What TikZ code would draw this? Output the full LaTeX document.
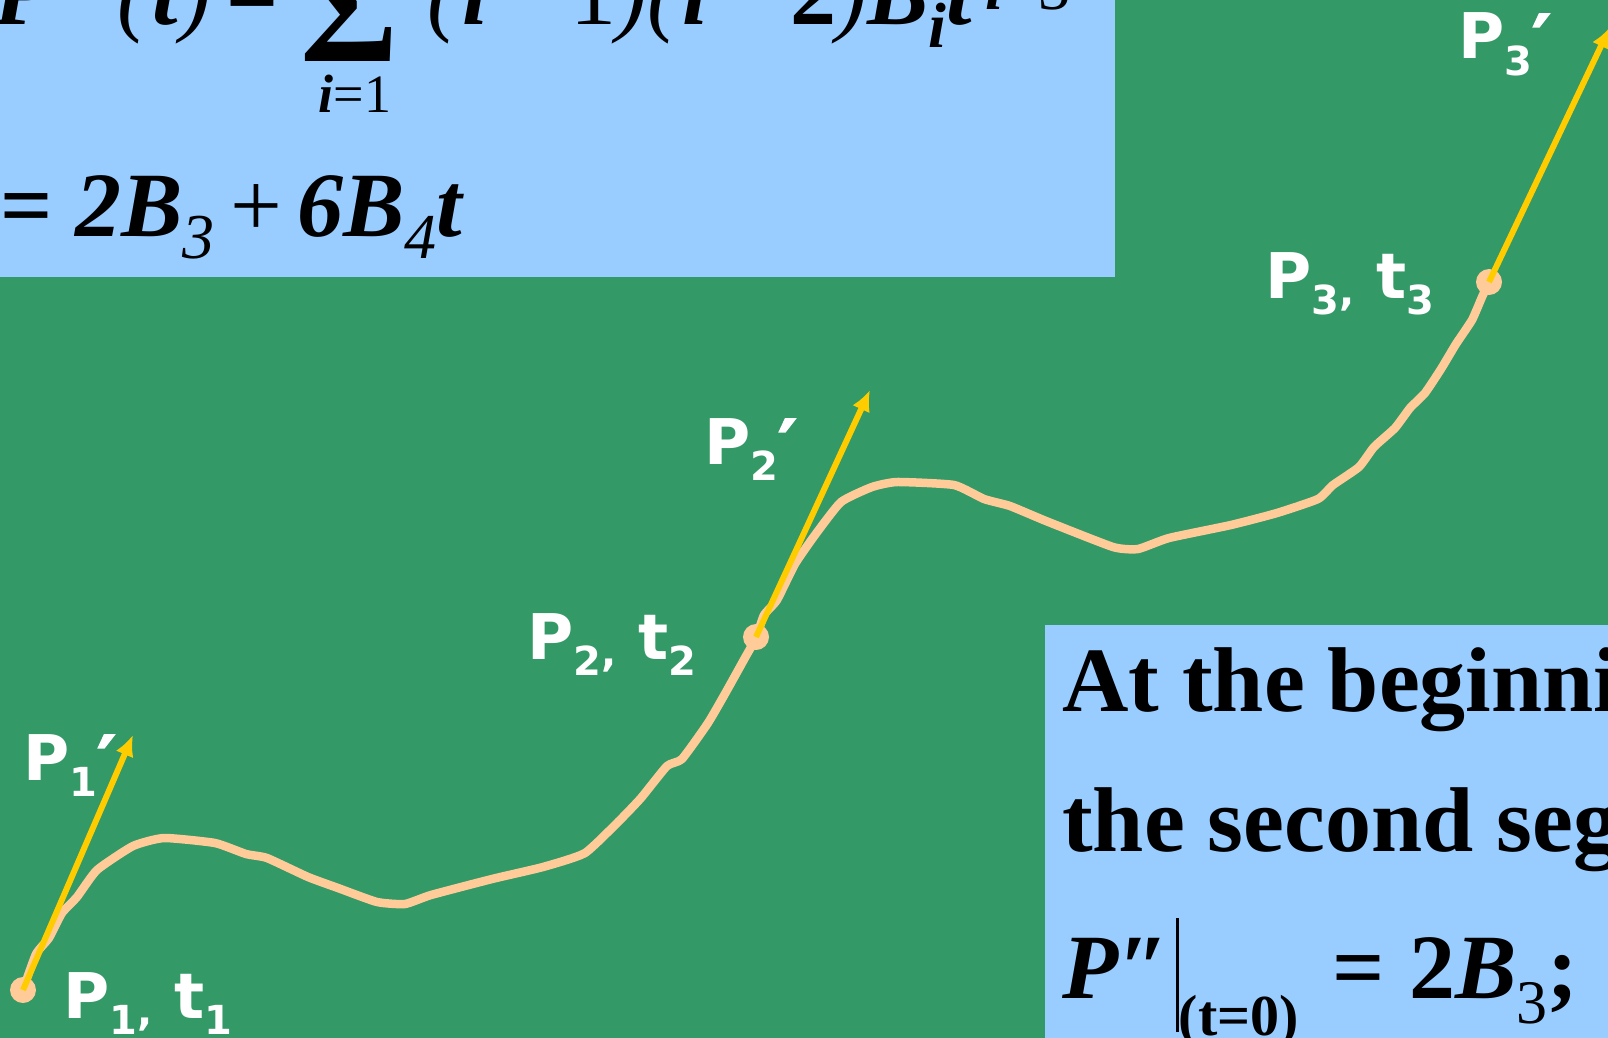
\documentclass[tikz,border=0pt]{standalone}
\usepackage{fontspec}
\setmainfont{Liberation Serif}
\newfontfamily\labelfont{DejaVu Sans}
\newfontfamily\primefont{DejaVu Sans}[FakeBold=2.5]
\usetikzlibrary{arrows.meta}
\definecolor{SlideGreen}{HTML}{339966}
\definecolor{BoxBlue}{HTML}{99CCFF}
\definecolor{CurvePeach}{HTML}{FFCC99}
\definecolor{TanGold}{HTML}{FFCC00}
\newcommand{\bfit}[1]{\textbf{\textit{#1}}}
% subscripts of the formulas and of the point labels
\newcommand{\bsub}[1]{\raisebox{-0.24em}{\fontsize{64}{64}\selectfont\textit{#1}}}
\newcommand{\lsub}[1]{\raisebox{-0.26em}{\fontsize{40}{40}\selectfont #1}}
\newcommand{\lcomma}{\raisebox{0.22em}{,}}
\newcommand{\lprime}{\raisebox{-6pt}{\primefont\bfseries\fontsize{70}{70}\selectfont′}}

\begin{document}
\begin{tikzpicture}[
    x=1pt, y=-1pt,
    % text in the blue boxes
    boxtext/.style={font=\fontsize{92}{110}\selectfont, inner sep=0, anchor=base west, text=black},
    lbl/.style={font=\labelfont\bfseries\fontsize{63}{70}\selectfont, inner sep=0, anchor=base west, text=white},
    curve/.style={draw=CurvePeach, line width=8.5pt, line join=round, line cap=round},
    tangent/.style={draw=TanGold, line width=6pt, -{Latex[length=21pt,width=19pt]}},
    dot/.style={fill=CurvePeach}
]
\useasboundingbox (0,0) rectangle (1608,1038);
\clip (0,0) rectangle (1608,1038);
\fill[SlideGreen] (0,0) rectangle (1608,1038);
\fill[BoxBlue] (0,0) rectangle (1115,277);
\fill[BoxBlue] (1045,625) rectangle (1608,1038);

% formulas
\node[boxtext] (sumlhs) at (-6,25) {\bfit{P}\bfit{″}\,\textit{(}\bfit{t}\textit{)}\,\textbf{=}};
\node[boxtext, font=\fontsize{150}{150}\selectfont\bfseries] (sumsign) at (300,62) {Σ};
\node[boxtext, font=\fontsize{54}{54}\selectfont, anchor=base] (sumlow) at (355,113) {\bfit{i}=1};
\node[boxtext] (sumterm) at (427,25) {\textit{(}\bfit{i}\,−\,1\textit{)(}\bfit{i}\,−\,\textbf{2}\textit{)}\bfit{B}\bsub{\bfit{i}}\bfit{t}\raisebox{0.17em}{\fontsize{64}{64}\selectfont\,\bfit{i}−3}};
\node[boxtext] (sumvalue) at (0,236) {\textbf{=} \bfit{2B}\bsub{3}\,+\,\bfit{6B}\bsub{4}\bfit{t}};
\node[boxtext] (startline) at (1062,711) {\textbf{At the beginning of}};
\node[boxtext] (segline) at (1062,851) {\textbf{the second segment}};
\node[boxtext] (condline) at (1062,998) {\bfit{P}\bfit{″}\hspace{6pt}\rule[-34pt]{3pt}{114pt}\raisebox{-37pt}{\fontsize{58}{58}\selectfont\textbf{(t=0)}}\hspace{34pt}\textbf{=}\hspace{24pt}\textbf{2}\bfit{B}\raisebox{-25pt}{\fontsize{62}{62}\selectfont 3}\textbf{;}};

% points and tangent ends
\coordinate (P1) at (23,990);
\coordinate (T1) at (133,735);
\coordinate (P2) at (756,637);
\coordinate (T2) at (870,390);
\coordinate (P3) at (1489,282);
\coordinate (T3) at (1610,27);

\draw[curve] plot[smooth, tension=0.3] coordinates {(23,990) (36,954) (49,938) (62,913) (77,897) (97,870) (133,846) (164,838) (215,843) (246,854) (267,858) (308,877) (338,888) (377,902) (405,904) (431,895) (492,879) (543,867) (585,853) (620,820) (641,798) (667,766) (682,759) (708,723) (726,692) (746,656) (756,638) (764,615) (777,600) (795,564) (815,535) (841,502) (872,487) (897,482) (954,485) (984,499) (1010,506) (1046,521) (1113,547) (1138,549) (1169,538) (1231,525) (1277,513) (1318,499) (1333,485) (1359,467) (1374,447) (1395,428) (1410,408) (1425,393) (1441,369) (1456,344) (1472,320) (1482,297) (1489,282)};
\foreach \p in {P1,P2,P3}{\fill[dot] (\p) circle (13);}
\foreach \p/\t in {P1/T1,P2/T2,P3/T3}{\draw[tangent] (\p) -- (\t);}

% labels
\node[lbl] (p1) at (63,1018) {P\lsub{1\lcomma} t\lsub{1}};
\node[lbl] (p1d) at (23,780) {P\lsub{1}\lprime};
\node[lbl] (p2) at (527,659) {P\lsub{2\lcomma} t\lsub{2}};
\node[lbl] (p2d) at (704,464) {P\lsub{2}\lprime};
\node[lbl] (p3) at (1265,298) {P\lsub{3\lcomma} t\lsub{3}};
\node[lbl] (p3d) at (1458,59) {P\lsub{3}\lprime};
\end{tikzpicture}
\end{document}
